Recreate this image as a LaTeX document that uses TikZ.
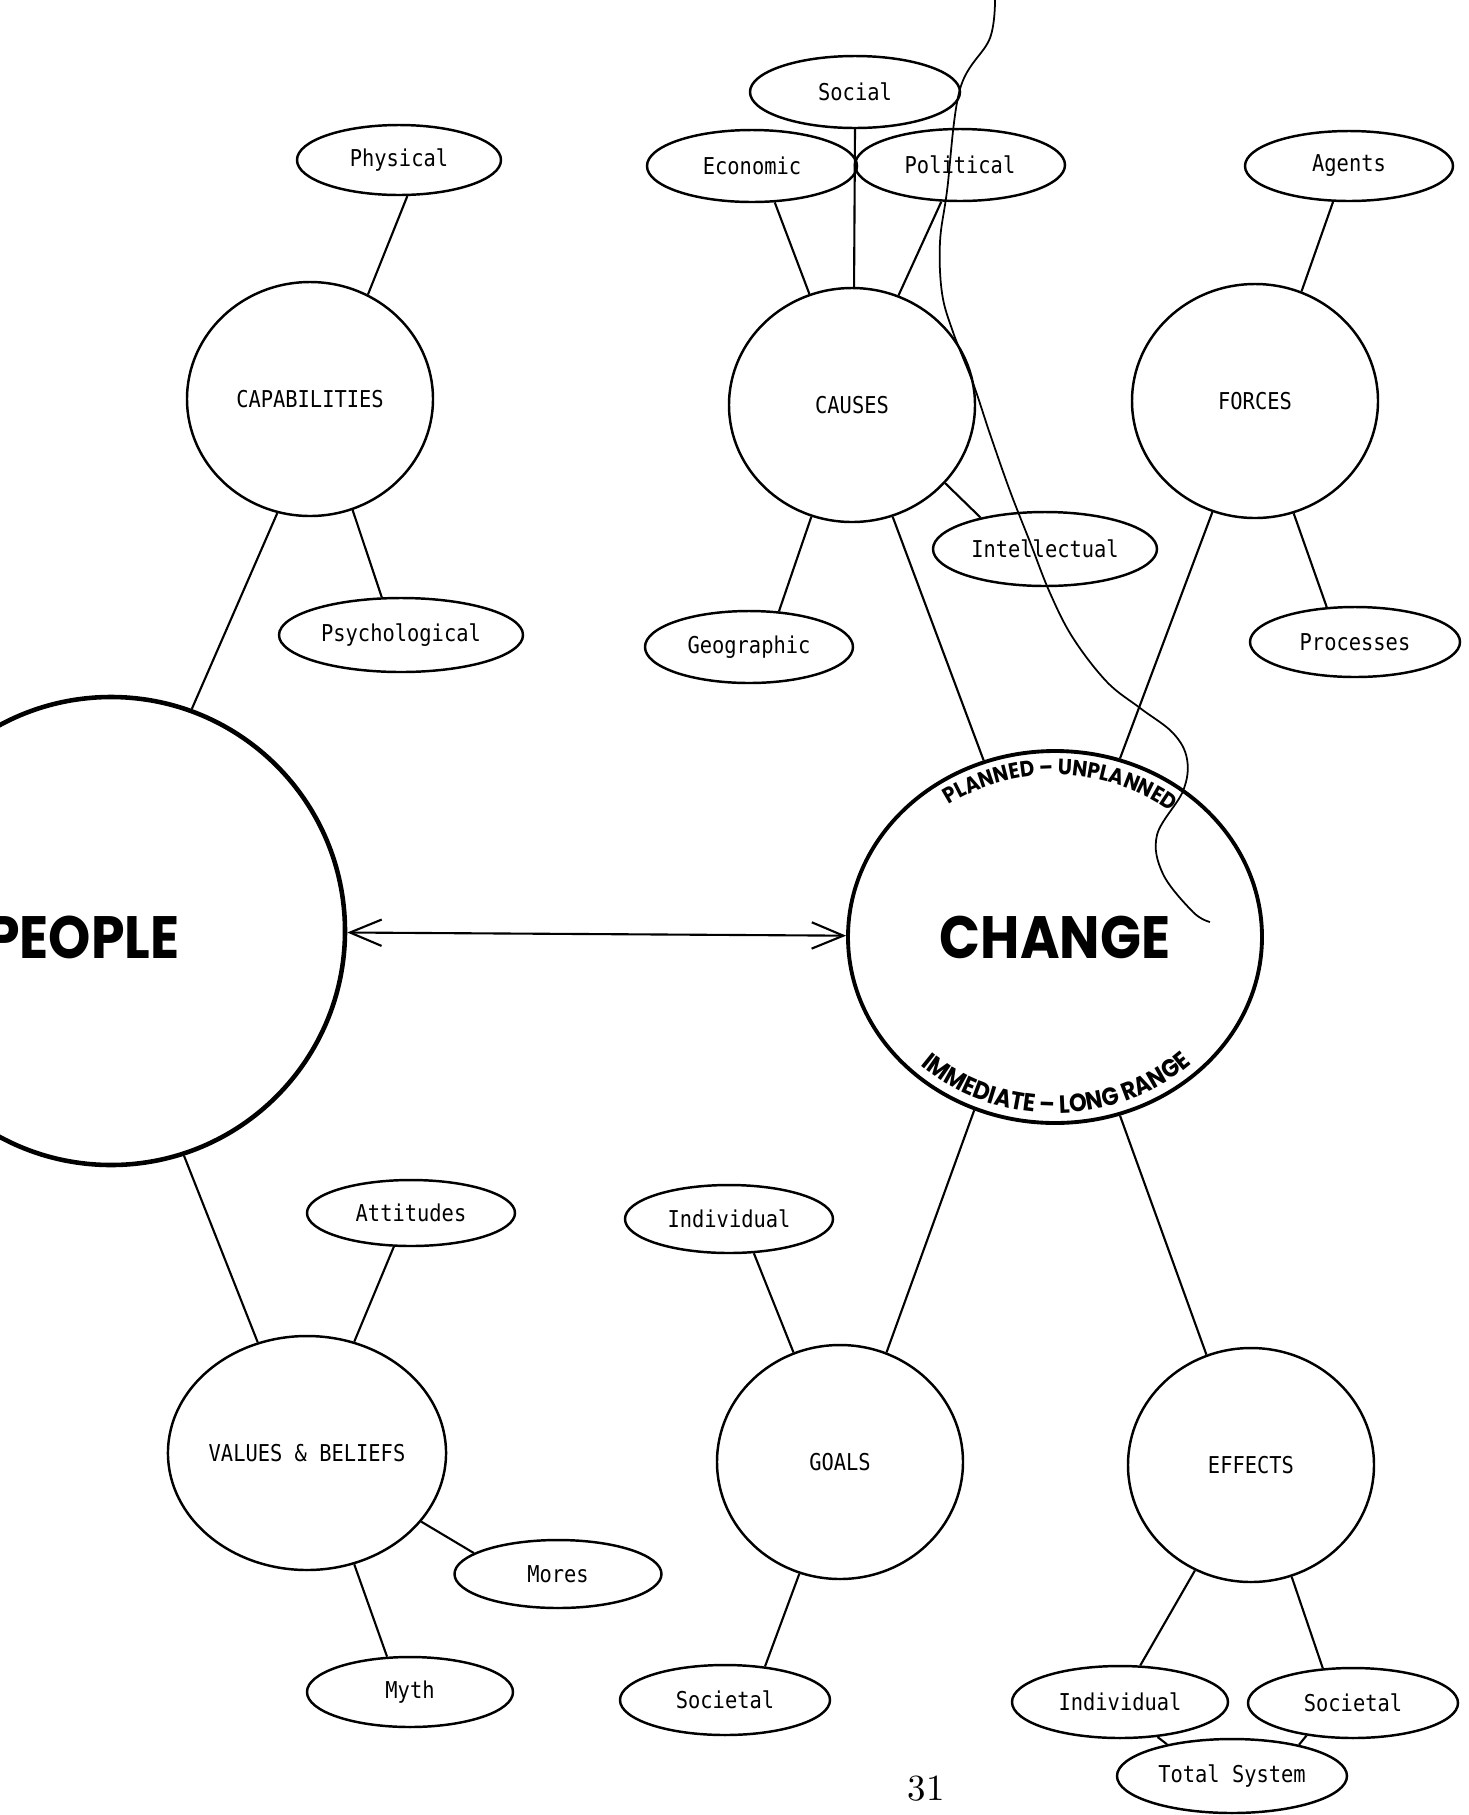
\documentclass[tikz,border=0pt]{standalone}
\usepackage{fontspec}
\newfontfamily\typer{DejaVu Sans Mono}[FakeStretch=0.88]
\newfontfamily\heavy{Poppins}[FakeStretch=0.9]
\usetikzlibrary{shapes.geometric,arrows.meta,decorations.text}
\newcommand\arctop{\heavy\bfseries\fontsize{6.3}{7}\selectfont}
\newcommand\arcbot{\heavy\bfseries\fontsize{7.1}{8}\selectfont}

\begin{document}
\begin{tikzpicture}[
	bubble/.style={ellipse, draw, line width=0.7pt, minimum width=2.46cm, minimum height=2.34cm, inner sep=0pt, font=\typer\fontsize{6.6}{8}\selectfont},
	leaf/.style={ellipse, draw, line width=0.7pt, minimum width=2.08cm, minimum height=0.70cm, inner sep=0pt, font=\typer\fontsize{6.6}{8}\selectfont},
	hub/.style={draw, inner sep=0pt, font=\heavy\bfseries\fontsize{17}{20}\selectfont},
	link/.style={line width=0.6pt},
	barb/.tip={Straight Barb[length=9pt, width=7.5pt]}]
			
			\useasboundingbox (0,0) rectangle (14.68,-18.15);
			\clip (0,0) rectangle (14.68,-18.15);
			
			\node[hub, circle, line width=1.3pt, minimum size=4.68cm] (PEO) at (1.11,-9.31) {};
			\node[inner sep=0pt, anchor=east, font=\heavy\bfseries\fontsize{17}{20}\selectfont] (PEOtxt) at (1.80,-9.37) {PEOPLE};
			\node[hub, ellipse, line width=1.1pt, minimum width=4.14cm, minimum height=3.72cm] (CHG) at (10.55,-9.37) {CHANGE};
			
			\node[bubble] (CAP) at (3.10,-3.99) {CAPABILITIES};
			\node[bubble] (CAU) at (8.52,-4.05) {CAUSES};
			\node[bubble] (FOR) at (12.55,-4.01) {FORCES};
			\node[bubble] (VAL) at (3.07,-14.53) {VALUES \& BELIEFS};
			\node[bubble] (GOA) at (8.40,-14.62) {GOALS};
			\node[bubble] (EFF) at (12.51,-14.65) {EFFECTS};
			
			\node[leaf, minimum width=2.04cm] (PHY) at (3.99,-1.60) {Physical};
			\node[leaf, minimum width=2.44cm, minimum height=0.74cm] (PSY) at (4.01,-6.35) {Psychological};
			\node[leaf, minimum width=2.10cm, minimum height=0.72cm] (ECO) at (7.52,-1.66) {Economic};
			\node[leaf, minimum width=2.10cm, minimum height=0.72cm] (SOC) at (8.55,-0.92) {Social};
			\node[leaf, minimum width=2.10cm, minimum height=0.72cm] (POL) at (9.60,-1.65) {Political};
			\node[leaf, minimum width=2.24cm, minimum height=0.74cm] (INT) at (10.45,-5.49) {Intellectual};
			\node[leaf, minimum height=0.72cm] (GEO) at (7.49,-6.47) {Geographic};
			\node[leaf] (AGE) at (13.49,-1.66) {Agents};
			\node[leaf, minimum width=2.10cm] (PRO) at (13.55,-6.42) {Processes};
			\node[leaf, minimum height=0.66cm] (ATT) at (4.11,-12.13) {Attitudes};
			\node[leaf, minimum width=2.07cm, minimum height=0.68cm] (MOR) at (5.58,-15.74) {Mores};
			\node[leaf, minimum width=2.06cm] (MYT) at (4.10,-16.92) {Myth};
			\node[leaf, minimum height=0.68cm] (IND) at (7.29,-12.19) {Individual};
			\node[leaf, minimum width=2.10cm] (SCT) at (7.25,-17.00) {Societal};
			\node[leaf, minimum width=2.16cm, minimum height=0.72cm] (INDE) at (11.20,-17.02) {Individual};
			\node[leaf, minimum width=2.10cm] (SCTE) at (13.53,-17.03) {Societal};
			\node[leaf, minimum width=2.30cm, minimum height=0.74cm] (TOT) at (12.32,-17.76) {Total System};
			
			\node[font=\fontsize{10.5}{12}\selectfont] (PG) at (9.26,-17.89) {31};
			
			\draw[link, barb-barb] (PEO) -- (CHG);
			
			\draw[link] (PHY.-77) -- (CAP.61);
			\draw[link] (CAP.-69) -- (PSY.117);
			\draw[link] (CAP.-106) -- (PEO.70);
			\draw[link] (ECO.-58) -- (CAU.111);
			\draw[link] (SOC.-90) -- (CAU.89);
			\draw[link] (POL.-117) -- (CAU.67);
			\draw[link] (CAU.-40) -- (INT.154);
			\draw[link] (CAU.-110) -- (GEO.50);
			\draw[link] (CAU.-70.5) -- (CHG.112);
			\draw[link] (AGE.-114) -- (FOR.67.6);
			\draw[link] (FOR.-71) -- (PRO.129);
			\draw[link] (FOR.-111) -- (CHG.70.5);
			\draw[link] (PEO.-72) -- (VAL.114);
			\draw[link] (ATT.-117) -- (VAL.67);
			\draw[link] (VAL.-31) -- (MOR.166);
			\draw[link] (VAL.-67) -- (MYT.123);
			\draw[link] (CHG.-115) -- (GOA.67);
			\draw[link] (IND.-54) -- (GOA.113.5);
			\draw[link] (GOA.-110) -- (SCT.40);
			\draw[link] (CHG.-70) -- (EFF.112);
			\draw[link] (EFF.-118) -- (INDE.61);
			\draw[link] (EFF.-70.6) -- (SCTE.131);
			\draw[link] (INDE.-43) -- (TOT.154);
			\draw[link] (SCTE.-145) -- (TOT.25);
			
			%% words round the rim of CHANGE
			\path[decorate, decoration={text along path, text align=center, text={|\arctop|PLANNED – UNPLANNED}}]
				([shift={(140:1.83 and 1.62)}]CHG.center) arc[start angle=140, end angle=36, x radius=1.83, y radius=1.62];
			\path[decorate, decoration={text along path, text align=center, text={|\arcbot|IMMEDIATE – LONG RANGE}}]
				([shift={(212:1.97 and 1.76)}]CHG.center) arc[start angle=212, end angle=329, x radius=1.97, y radius=1.76];
			
			\draw[line width=0.5pt] plot[smooth, tension=0.6] coordinates {(9.95,0.05) (9.90,-0.38) (9.60,-0.89) (9.47,-1.91) (9.40,-2.42) (9.42,-2.93) (9.53,-3.32) (9.73,-3.83) (9.90,-4.34) (10.10,-4.91) (10.30,-5.42) (10.50,-5.93) (10.73,-6.38) (11.07,-6.82) (11.40,-7.08) (11.73,-7.33) (11.87,-7.59) (11.83,-7.91) (11.57,-8.35) (11.63,-8.74) (11.93,-9.12) (12.10,-9.22)};
			
		\end{tikzpicture}
\end{document}
